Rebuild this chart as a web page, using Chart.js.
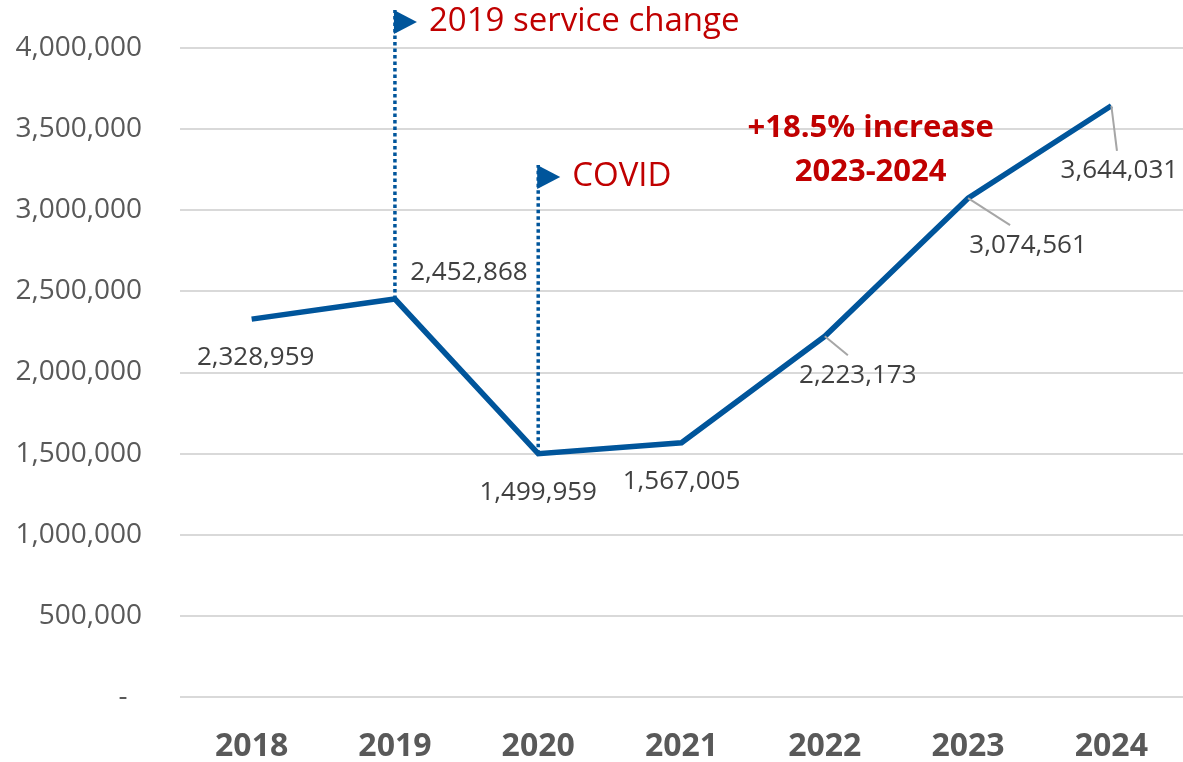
<!DOCTYPE html>
<html>
<head>
<meta charset="utf-8">
<script src="https://cdn.jsdelivr.net/npm/chart.js@4"></script>
<style>
  body { margin: 0; background: #fff; }
</style>
</head>
<body>
<canvas id="myChart" width="1183" height="762"></canvas>
<script>
  // Provided data
  const years = ['2018', '2019', '2020', '2021', '2022', '2023', '2024'];
  const riders = [2328959, 2452868, 1499959, 1567005, 2223173, 3074561, 3644031];
  const yTicks = [0, 500000, 1000000, 1500000, 2000000, 2500000, 3000000, 3500000, 4000000];

  // Event markers: category index, value where the arrow sits, text
  const eventIndex = [1, 2];
  const eventTop = [4160000, 3205000];
  const eventText = ['2019 service change', 'COVID'];

  const noteLines = ['+18.5% increase', '2023-2024'];

  const FONT = "'Open Sans', sans-serif";
  const BLUE = '#00559B';
  const RED = '#C00000';

  // label offsets from the point (px) and whether a leader line is drawn
  const labelStyle = [
    { dx: 4, dy: 38, leader: false },
    { dx: 74, dy: -26, leader: false },
    { dx: 0, dy: 39, leader: false },
    { dx: 0, dy: 39, leader: false },
    { dx: 33, dy: 39, leader: true },
    { dx: 60, dy: 47, leader: true },
    { dx: 8, dy: 65, leader: true }
  ];

  const annotations = {
    id: 'annotations',
    afterDatasetsDraw(chart) {
      const ctx = chart.ctx;
      const x = chart.scales.x;
      const y = chart.scales.y;
      ctx.save();

      // event markers
      eventIndex.forEach((idx, i) => {
        const px = x.getPixelForValue(idx);
        const y1 = y.getPixelForValue(riders[idx]);
        const y2 = y.getPixelForValue(eventTop[i]);
        ctx.strokeStyle = BLUE;
        ctx.lineWidth = 3.5;
        ctx.setLineDash([3.5, 3]);
        ctx.beginPath();
        ctx.moveTo(px, y1);
        ctx.lineTo(px, y2 - 12);
        ctx.stroke();
        ctx.setLineDash([]);
        ctx.fillStyle = BLUE;
        ctx.beginPath();
        ctx.moveTo(px - 1, y2 - 12);
        ctx.lineTo(px + 22, y2);
        ctx.lineTo(px - 1, y2 + 12);
        ctx.closePath();
        ctx.fill();
        ctx.fillStyle = RED;
        ctx.font = '33px ' + FONT;
        ctx.textAlign = 'left';
        ctx.textBaseline = 'middle';
        ctx.fillText(eventText[i], px + 34, y2);
      });

      // data labels
      const meta = chart.getDatasetMeta(0);
      ctx.font = '26px ' + FONT;
      ctx.textAlign = 'center';
      ctx.textBaseline = 'middle';
      meta.data.forEach((pt, i) => {
        const s = labelStyle[i];
        const lx = pt.x + s.dx;
        const ly = pt.y + s.dy;
        if (s.leader) {
          ctx.strokeStyle = '#A6A6A6';
          ctx.lineWidth = 2;
          ctx.beginPath();
          ctx.moveTo(pt.x, pt.y);
          ctx.lineTo(lx - s.dx * 0.3, ly - 20);
          ctx.stroke();
        }
        ctx.fillStyle = '#404040';
        ctx.fillText(riders[i].toLocaleString('en-US'), lx, ly);
      });

      // increase note
      ctx.fillStyle = RED;
      ctx.font = 'bold 31px ' + FONT;
      const nx = x.getPixelForValue(4.32);
      ctx.fillText(noteLines[0], nx, y.getPixelForValue(3507000));
      ctx.fillText(noteLines[1], nx, y.getPixelForValue(3236000));

      ctx.restore();
    }
  };

  const config = {
    type: 'line',
    data: {
      labels: years,
      datasets: [{
        label: 'Ridership',
        data: riders,
        borderColor: BLUE,
        backgroundColor: BLUE,
        borderWidth: 5.5,
        pointRadius: 0,
        tension: 0,
        borderJoinStyle: 'miter'
      }]
    },
    options: {
      responsive: false,
      animation: false,
      layout: { padding: { top: 48, right: 0, left: 0, bottom: 0 } },
      plugins: {
        legend: { display: false },
        tooltip: { enabled: false }
      },
      scales: {
        x: {
          offset: true,
          grid: { display: false, drawTicks: false },
          border: { display: false },
          ticks: {
            color: '#595959',
            font: { family: FONT, size: 32, weight: 'bold' },
            padding: 31
          },
          afterFit(scale) { scale.height = 65; }
        },
        y: {
          min: 0,
          max: 4000000,
          afterBuildTicks(scale) { scale.ticks = yTicks.map(v => ({ value: v })); },
          // invisible tick marks make the gap between labels and plot
          grid: { color: '#D9D9D9', lineWidth: 2, drawTicks: true, tickLength: 38, tickColor: 'rgba(0,0,0,0)' },
          border: { display: false },
          ticks: {
            color: '#595959',
            font: { family: FONT, size: 28 },
            padding: 0,
            callback: v => v === 0 ? '-  ' : v.toLocaleString('en-US')
          },
          afterFit(scale) { scale.width = 180; }
        }
      }
    },
    plugins: [annotations]
  };

  const ctx1 = document.getElementById('myChart').getContext('2d');
  const myChart = new Chart(ctx1, config);
</script>
</body>
</html>
